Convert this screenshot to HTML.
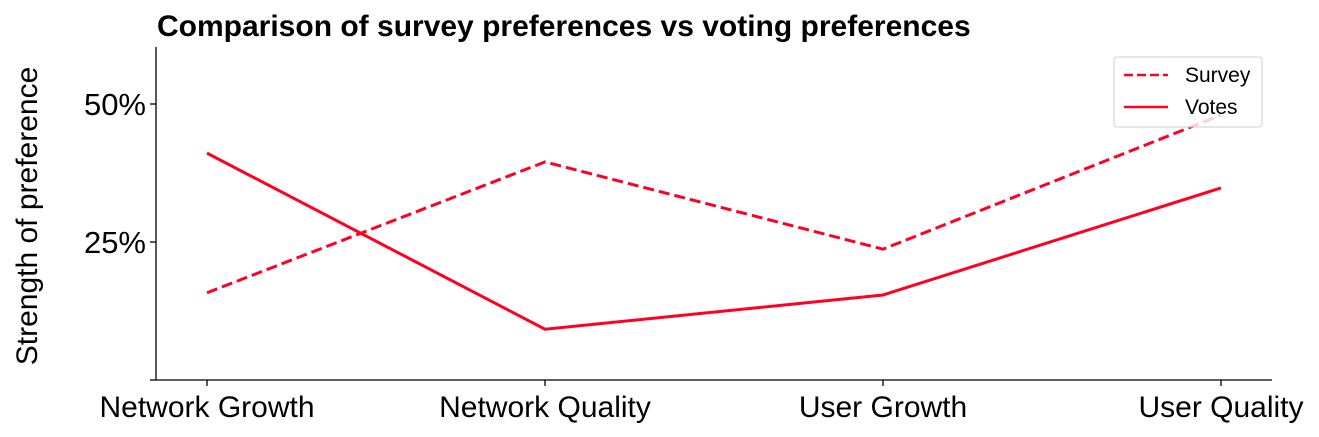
<!DOCTYPE html>
<html><head><meta charset="utf-8"><style>
body{margin:0;background:#fff;}
svg{display:block;font-family:"Liberation Sans",Arial,sans-serif;}
</style></head><body>
<svg id="chart" width="1319" height="437" viewBox="0 0 1319 437">
<text x="157" y="36" font-size="30" font-weight="bold">Comparison of survey preferences vs voting preferences</text>
<text transform="translate(37,216) rotate(-90)" text-anchor="middle" font-size="30">Strength of preference</text>
<g id="axes"></g>
<g id="series"></g>
<g>
<rect x="1114" y="57" width="148" height="70" rx="3" fill="#fff" fill-opacity="0.8" stroke="#ccc"/>
<line x1="1124" y1="75" x2="1168" y2="75" stroke="#ff0022" stroke-width="2.6" stroke-dasharray="9,4"/>
<text x="1185" y="82" font-size="21">Survey</text>
<line x1="1124" y1="107" x2="1168" y2="107" stroke="#ff0022" stroke-width="2.6"/>
<text x="1185" y="114" font-size="21">Votes</text>
</g>
</svg>
<script>
const categories=["Network Growth","Network Quality","User Growth","User Quality"];
const surveyValues=[0.158,0.395,0.237,0.48];
const voteValues=[0.411,0.092,0.154,0.348];
const yTicks=[0.25,0.5];
const yTickLabels=["25%","50%"];
const NS="http://www.w3.org/2000/svg";
const x0=156,x1=1272,yTop=47,yBot=380;
const xPos=i=>207+i*338;
const yPos=v=>380-v*552;
function mk(tag,attrs,parent){const e=document.createElementNS(NS,tag);for(const k in attrs)e.setAttribute(k,attrs[k]);parent.appendChild(e);return e;}
const axes=document.getElementById('axes');
let l=mk('line',{x1:x0,y1:yTop,x2:x0,y2:yBot,stroke:'#000','stroke-width':1.3},axes);


l=mk('line',{x1:x0,y1:yBot,x2:x1,y2:yBot,stroke:'#000','stroke-width':1.3},axes);


[0].concat(yTicks).forEach((v,i)=>{
  const t=mk('line',{x1:x0-6,y1:yPos(v),x2:x0,y2:yPos(v),stroke:'#000','stroke-width':1.3},axes);
  
  
});
yTicks.forEach((v,i)=>{
  const t=mk('text',{x:x0-10,y:yPos(v)+11,'text-anchor':'end','font-size':31},axes);
  t.textContent=yTickLabels[i];
  
  
});
categories.forEach((c,i)=>{
  const t=mk('line',{x1:xPos(i),y1:yBot,x2:xPos(i),y2:yBot+6,stroke:'#000','stroke-width':1.3},axes);
  
  
  const tx=mk('text',{x:xPos(i),y:417,'text-anchor':'middle','font-size':30},axes);
  tx.textContent=c;
  
  
});
const series=document.getElementById('series');
const pts=a=>a.map((v,i)=>xPos(i)+','+yPos(v)).join(' ');
let p=mk('polyline',{points:pts(surveyValues),fill:'none',stroke:'#ff0022','stroke-width':3,'stroke-dasharray':'11,5'},series);


p=mk('polyline',{points:pts(voteValues),fill:'none',stroke:'#ff0022','stroke-width':3},series);


</script>
</body></html>
